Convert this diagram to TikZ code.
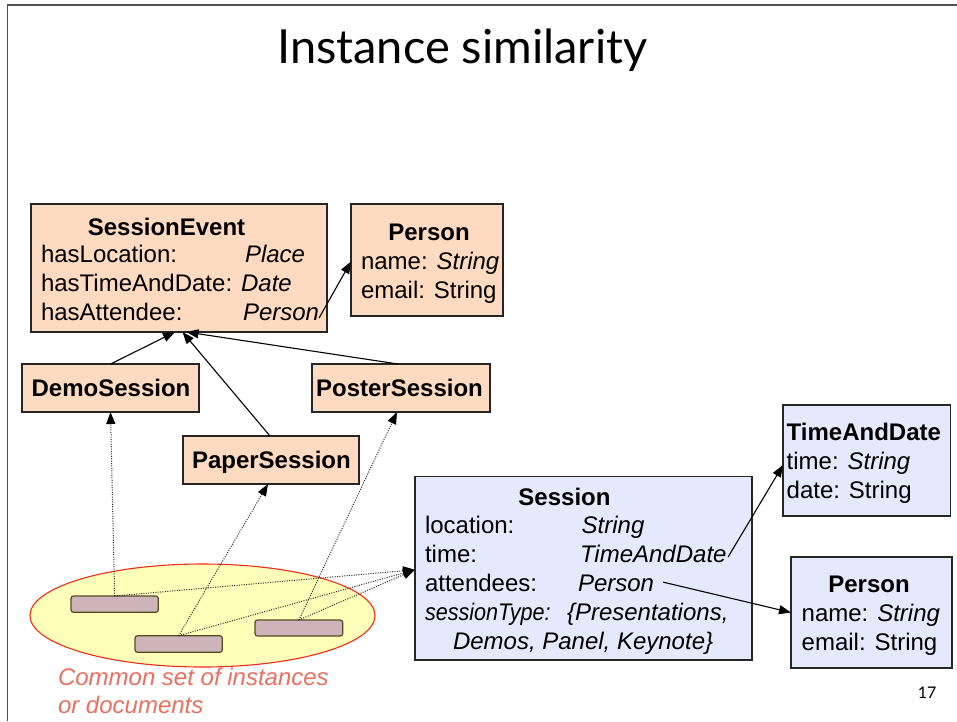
\documentclass[tikz,border=0pt]{standalone}
\usepackage{fontspec}
\setmainfont{Liberation Sans}
\newfontfamily\titlefont{Lato}
\usetikzlibrary{arrows.meta,shapes.geometric,calc}
\definecolor{peach}{RGB}{253,218,192}
\definecolor{paleblue}{RGB}{228,233,252}
\definecolor{paleyellow}{RGB}{255,255,185}
\definecolor{ellred}{RGB}{240,45,25}
\definecolor{mauve}{RGB}{205,180,186}
\definecolor{olivedark}{RGB}{85,75,35}
\definecolor{coral}{RGB}{232,112,95}
\definecolor{framegrey}{RGB}{80,80,80}
\tikzset{
  boxbase/.style={draw=black!85, line width=1.4pt, inner sep=0pt, outer sep=0pt},
  peachbox/.style={boxbase, fill=peach},
  bluebox/.style={boxbase, fill=paleblue},
  txt/.style={anchor=base west, inner sep=0pt, outer sep=0pt},
  ctxt/.style={anchor=base, inner sep=0pt, outer sep=0pt, font=\fontsize{24}{29}\selectfont\bfseries},
  conn/.style={line width=1.1pt, -{Triangle[length=12pt,width=9pt]}},
  dotconn/.style={line width=1pt, draw=black!85, dash pattern=on 1pt off 1.4pt, -{Triangle[length=12pt,width=9pt,color=black,fill=black]}},
  inst/.style={draw=olivedark, fill=mauve, rounded corners=2.5pt, line width=1.2pt, inner sep=0pt, outer sep=0pt},
}
\begin{document}
\begin{tikzpicture}[x=1pt,y=-1pt, font=\fontsize{24}{29}\selectfont]
\useasboundingbox (0,0) rectangle (957,721);
% frame
\draw[line width=1.3pt, framegrey] (7.5,721) -- (7.5,5) -- (957,5);
% title
\node[anchor=base, inner sep=0pt, font=\titlefont\fontsize{47}{50}\selectfont] (title) at (462.3,63.3) {Instance similarity};
\node[anchor=base west, inner sep=0pt, font=\titlefont\fontsize{16}{18}\selectfont] (pg) at (917.7,698) {17};

% ---- SessionEvent
\node[peachbox, minimum width=296pt, minimum height=128pt] (se) at (179,268) {};
\node[ctxt] (setitle) at (166.5,235.5) {SessionEvent};
\node[txt] (seloc) at (41,262) {hasLocation:};
\node[txt] (seplace) at (245,262) {\itshape Place};
\node[txt] (setime) at (41,291) {hasTimeAndDate: \itshape Date};
\node[txt] (seattl) at (41,320) {hasAttendee:};
\node[txt] (seatt) at (243,320) {\itshape Person};

% ---- Person (top)
\node[peachbox, minimum width=152pt, minimum height=112pt] (p1) at (427,260) {};
\node[ctxt] (p1title) at (429,240.6) {Person};
\node[txt] (p1name) at (361,269.6) {name: \itshape String};
\node[txt] (p1mail) at (361,298.6) {email: String};

% ---- subclasses
\node[peachbox, minimum width=177pt, minimum height=48pt] (demo) at (110.5,388) {};
\node[ctxt] (demot) at (111,396.6) {DemoSession};
\node[peachbox, minimum width=178pt, minimum height=48pt] (poster) at (401,388) {};
\node[ctxt] (postert) at (399.5,396.6) {PosterSession};
\node[peachbox, minimum width=176pt, minimum height=48pt] (paper) at (271,460) {};
\node[ctxt] (papert) at (271.4,468.4) {PaperSession};

% ---- Session
\node[bluebox, minimum width=337pt, minimum height=183.5pt] (sess) at (583.5,568.25) {};
\node[ctxt] (sesst) at (564.5,505.6) {Session};
\node[txt] (sloc) at (425,533.6) {location:};
\node[txt] (slocv) at (581.7,533.6) {\itshape String};
\node[txt] (stimel) at (425,562.6) {time:};
\node[txt] (stime) at (580,562.6) {\itshape TimeAndDate};
\node[txt] (sattl) at (425,591.6) {attendees:};
\node[txt] (sperson) at (578,591.6) {\itshape Person};
\node[txt] (stype) at (425,620.6) {\scalebox{0.9}[1]{\itshape sessionType:}};
\node[txt] (stypev) at (567,620.6) {\itshape \{Presentations,};
\node[txt] (stypev2) at (453,649.6) {\itshape Demos, Panel, Keynote\}};

% ---- TimeAndDate
\node[bluebox, minimum width=167.5pt, minimum height=111pt] (tad) at (866.75,460.5) {};
\node[txt, font=\fontsize{24}{29}\selectfont\bfseries] (tadt) at (786.7,440.6) {TimeAndDate};
\node[txt] (tadtime) at (786.7,469.6) {time: \itshape String};
\node[txt] (taddate) at (786.7,498.6) {date: String};

% ---- Person (bottom)
\node[bluebox, minimum width=161pt, minimum height=111pt] (p2) at (871.5,612.5) {};
\node[ctxt] (p2title) at (869,592.6) {Person};
\node[txt] (p2name) at (801.7,621.6) {name: \itshape String};
\node[txt] (p2mail) at (801.7,650.6) {email: String};

% ---- instances
\node[ellipse, draw=ellred, fill=paleyellow, line width=1.1pt, minimum width=345pt, minimum height=103pt, inner sep=0pt] (ell) at (202.5,615.5) {};
\node[inst, minimum width=87.3pt, minimum height=16.3pt] (r1) at (114.65,604.15) {};
\node[inst, minimum width=87.3pt, minimum height=16.6pt] (r2) at (178.65,644) {};
\node[inst, minimum width=87.7pt, minimum height=16pt] (r3) at (298.85,628) {};

\node[txt, text=coral, font=\fontsize{24}{29}\selectfont\itshape] (cap1) at (58,685) {Common set of instances};
\node[txt, text=coral, font=\fontsize{24}{29}\selectfont\itshape] (cap2) at (58,713) {or documents};

% ---- solid connectors
\draw[conn] (demo.north) -- ([xshift=-4pt]se.south);
\draw[conn] ([xshift=-1pt]paper.north) -- ([xshift=3.5pt]se.south);
\draw[conn] ([xshift=-3pt]poster.north) -- ([xshift=7.5pt]se.south);
\draw[conn] ([yshift=2pt]seatt.base east) -- ([yshift=-1.5pt]p1.west);
\draw[conn] ([xshift=1.5pt,yshift=5.5pt]stime.base east) -- ([yshift=-4.5pt]tad.west);
\draw[conn] ([xshift=9pt,yshift=9.5pt]sperson.base east) -- (p2.west);

% ---- dotted connectors
\draw[dotconn] (r1.north) -- (demo.south);
\draw[dotconn] (r2.north) -- ([xshift=-3pt]paper.south);
\draw[dotconn] (r3.north) -- ([xshift=-4pt]poster.south);
\draw[dotconn] (r1.north) -- ([yshift=-1.5pt]sess.west);
\draw[dotconn] (r2.north) -- ([yshift=-1.5pt]sess.west);
\draw[dotconn] (r3.north) -- ([yshift=-1.5pt]sess.west);
\end{tikzpicture}
\end{document}
